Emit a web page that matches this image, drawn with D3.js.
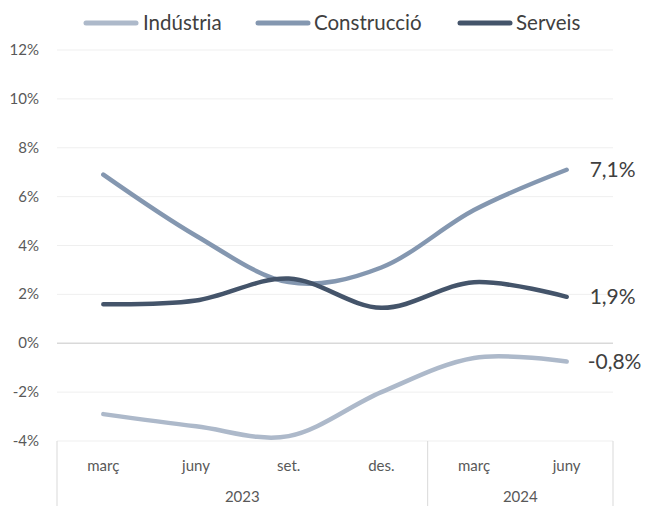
<!DOCTYPE html>
<html><head><meta charset="utf-8">
<script src="https://cdn.jsdelivr.net/npm/d3@7"></script>
<style>body{margin:0;background:#fff}svg{display:block}text{font-family:Lato,"Open Sans",sans-serif}</style>
</head><body>
<svg id="c" width="646" height="506"></svg>
<script>
const months = ["març","juny","set.","des.","març","juny"];
const years = [{label:"2023", n:4},{label:"2024", n:2}];
const industria = [-2.9,-3.4,-3.8,-2.0,-0.6,-0.75];
const construccio = [6.9,4.4,2.5,3.1,5.45,7.1];
const serveis = [1.6,1.75,2.65,1.45,2.5,1.9];
const yTicks = [-4,-2,0,2,4,6,8,10,12];
const endLabels = ["-0,8%","7,1%","1,9%"];
const seriesNames = ["Indústria","Construcció","Serveis"];
const colors = ["#adb9ca","#8497b0","#44546a"];

const svg = d3.select("#c");
const L=57, R=613, T=50, B=441;
const x = d3.scaleBand().domain(d3.range(months.length)).range([L,R]);
const y = d3.scaleLinear().domain([-4,12]).range([B,T]);

// gridlines
svg.append("g").selectAll("line").data(yTicks).join("line")
  .attr("x1",L).attr("x2",R).attr("y1",d=>y(d)).attr("y2",d=>y(d))
  .attr("stroke",d=>d===0?"#d9d9d9":"#efefef").attr("stroke-width",d=>d===0?1.5:1);
// y labels
svg.append("g").selectAll("text").data(yTicks).join("text")
  .attr("x",39).attr("y",d=>y(d)+5).attr("text-anchor","end")
  .attr("font-size",15).attr("fill","#595959").text(d=>d+"%");

// x axis multi-level
const ax = svg.append("g").attr("stroke","#d9d9d9").attr("stroke-width",1);
let acc=0; const bounds=[0];
years.forEach(yr=>{acc+=yr.n; bounds.push(acc);});
bounds.forEach(b=>{
  const xx = b<months.length ? x(b) : R;
  ax.append("line").attr("x1",xx).attr("x2",xx).attr("y1",B).attr("y2",506);
});
svg.append("g").selectAll("text").data(months).join("text")
  .attr("x",(d,i)=>x(i)+x.bandwidth()/2).attr("y",471).attr("text-anchor","middle")
  .attr("font-size",15).attr("fill","#595959").text(d=>d);
acc=0;
years.forEach(yr=>{
  const x0=x(acc), x1= acc+yr.n<months.length? x(acc+yr.n): R;
  svg.append("text").attr("x",(x0+x1)/2).attr("y",502).attr("text-anchor","middle")
    .attr("font-size",15).attr("fill","#595959").text(yr.label);
  acc+=yr.n;
});

// lines
const line = d3.line().x((d,i)=>x(i)+x.bandwidth()/2).y(d=>y(d)).curve(d3.curveCardinal.tension(0));
const data=[industria,construccio,serveis];
data.forEach((s,k)=>{
  svg.append("path").attr("d",line(s)).attr("fill","none").attr("stroke",colors[k])
    .attr("stroke-width",4.5).attr("stroke-linecap","round").attr("stroke-linejoin","round");
  svg.append("text").attr("x",x(months.length-1)+x.bandwidth()/2+(k===0?21:23)).attr("y",y(s[s.length-1])+7)
    .attr("font-size",21).attr("fill","#404040").text(endLabels[k]);
});

// legend
const lg=[{x:84,tx:143},{x:256,tx:314},{x:458,tx:516}];
seriesNames.forEach((n,k)=>{
  svg.append("line").attr("x1",lg[k].x+2).attr("x2",lg[k].x+52).attr("y1",23).attr("y2",23)
    .attr("stroke",colors[k]).attr("stroke-width",5).attr("stroke-linecap","round");
  svg.append("text").attr("x",lg[k].tx).attr("y",30).attr("font-size",20.5).attr("fill","#404040").text(n);
});
</script>
</body></html>
